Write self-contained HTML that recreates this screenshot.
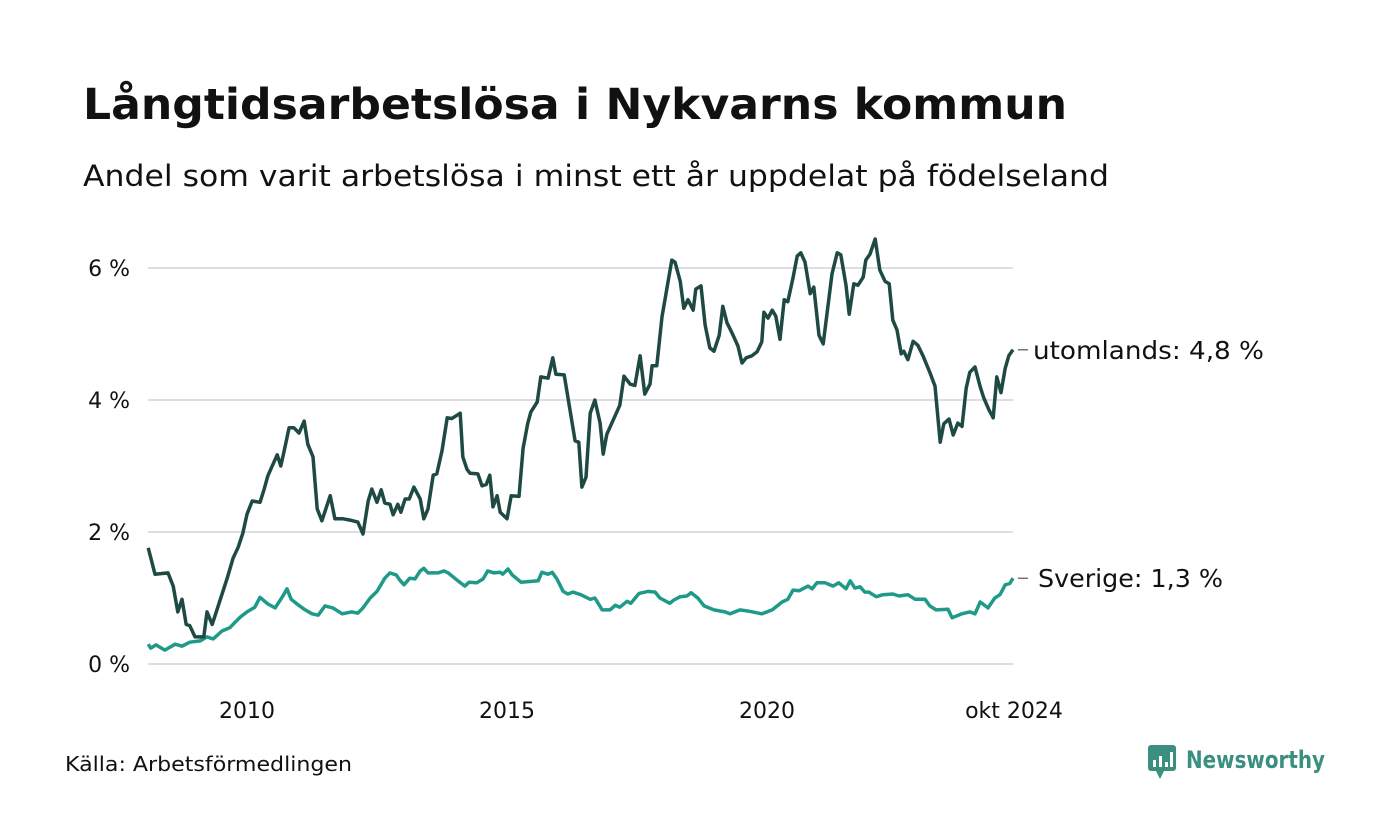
<!DOCTYPE html>
<html><head><meta charset="utf-8"><style>html,body{margin:0;padding:0;background:#fff}svg{display:block}</style></head>
<body>
<svg id="chart" width="1400" height="840" viewBox="0 0 1400 840" xmlns="http://www.w3.org/2000/svg" font-family="'DejaVu Sans', 'Liberation Sans', sans-serif">
<rect width="1400" height="840" fill="#fff"/>
<text x="83" y="119" font-size="43" font-weight="bold" fill="#111" textLength="984" lengthAdjust="spacingAndGlyphs">Långtidsarbetslösa i Nykvarns kommun</text>
<text x="83" y="186" font-size="29" fill="#111" textLength="1026" lengthAdjust="spacingAndGlyphs">Andel som varit arbetslösa i minst ett år uppdelat på födelseland</text>
<g id="grid"></g><g id="xaxis"></g><g id="series"></g>
<text x="65" y="771" font-size="20" fill="#111" textLength="287" lengthAdjust="spacingAndGlyphs">Källa: Arbetsförmedlingen</text>
<g>
<rect x="1148" y="745" width="28" height="26" rx="3" fill="#3a8f80"/>
<polygon points="1156,771 1164,771 1160,779" fill="#3a8f80"/>
<rect x="1153" y="760" width="3" height="7" fill="#fff"/><rect x="1159" y="756" width="3" height="11" fill="#fff"/><rect x="1165" y="762" width="3" height="5" fill="#fff"/><rect x="1170" y="752" width="3" height="15" fill="#fff"/>
<text x="1186" y="768" font-size="24" font-weight="bold" fill="#3a8f80" textLength="139" lengthAdjust="spacingAndGlyphs">Newsworthy</text>
</g>
</svg>
<script>
const yTicks=[0,2,4,6];
const yTickLabels=["0 %","2 %","4 %","6 %"];
const xTicks=[2010,2015,2020,2024.75];
const xTickLabels=["2010","2015","2020","okt 2024"];
const foreignDates=[2008.10,2008.23,2008.48,2008.58,2008.67,2008.75,2008.83,2008.90,2009.00,2009.17,2009.23,2009.33,2009.62,2009.73,2009.83,2009.92,2010.00,2010.10,2010.25,2010.33,2010.40,2010.58,2010.65,2010.71,2010.81,2010.90,2011.00,2011.10,2011.17,2011.27,2011.35,2011.44,2011.60,2011.69,2011.85,2011.98,2012.13,2012.23,2012.33,2012.40,2012.50,2012.58,2012.65,2012.75,2012.81,2012.90,2012.96,2013.04,2013.12,2013.21,2013.33,2013.40,2013.48,2013.58,2013.65,2013.75,2013.85,2013.94,2014.10,2014.15,2014.23,2014.29,2014.44,2014.52,2014.60,2014.67,2014.73,2014.81,2014.87,2015.00,2015.08,2015.23,2015.31,2015.40,2015.46,2015.58,2015.65,2015.79,2015.88,2015.94,2016.10,2016.31,2016.38,2016.44,2016.52,2016.60,2016.69,2016.79,2016.85,2016.92,2017.17,2017.25,2017.37,2017.46,2017.56,2017.65,2017.75,2017.79,2017.88,2017.98,2018.17,2018.23,2018.33,2018.40,2018.48,2018.58,2018.63,2018.73,2018.81,2018.90,2018.98,2019.08,2019.15,2019.23,2019.33,2019.44,2019.52,2019.60,2019.71,2019.81,2019.90,2019.94,2020.02,2020.10,2020.17,2020.25,2020.33,2020.40,2020.50,2020.58,2020.65,2020.73,2020.83,2020.90,2021.00,2021.08,2021.25,2021.35,2021.42,2021.52,2021.58,2021.67,2021.75,2021.85,2021.90,2021.98,2022.08,2022.17,2022.27,2022.35,2022.42,2022.50,2022.58,2022.63,2022.71,2022.81,2022.90,2023.00,2023.13,2023.23,2023.33,2023.40,2023.50,2023.58,2023.67,2023.75,2023.83,2023.90,2024.00,2024.10,2024.17,2024.27,2024.35,2024.42,2024.50,2024.58,2024.65,2024.73];
const foreignValues=[1.76,1.36,1.38,1.18,0.79,0.98,0.60,0.58,0.41,0.41,0.79,0.60,1.30,1.60,1.77,1.98,2.27,2.47,2.45,2.65,2.85,3.17,3.00,3.21,3.58,3.58,3.50,3.68,3.33,3.14,2.35,2.17,2.55,2.20,2.20,2.18,2.15,1.97,2.47,2.65,2.45,2.64,2.44,2.42,2.26,2.42,2.30,2.50,2.50,2.68,2.50,2.20,2.35,2.86,2.88,3.23,3.73,3.72,3.80,3.14,2.95,2.89,2.88,2.70,2.72,2.86,2.38,2.55,2.30,2.20,2.55,2.54,3.27,3.65,3.82,3.97,4.35,4.33,4.64,4.39,4.38,3.38,3.36,2.68,2.83,3.80,4.00,3.65,3.18,3.48,3.92,4.36,4.24,4.22,4.67,4.09,4.24,4.52,4.52,5.26,6.12,6.09,5.80,5.39,5.52,5.36,5.68,5.73,5.14,4.79,4.74,4.98,5.42,5.17,5.01,4.82,4.56,4.64,4.67,4.73,4.88,5.33,5.24,5.36,5.27,4.92,5.52,5.49,5.85,6.18,6.23,6.09,5.61,5.71,4.98,4.85,5.91,6.23,6.20,5.74,5.30,5.76,5.74,5.86,6.12,6.21,6.44,5.97,5.80,5.76,5.21,5.06,4.70,4.74,4.61,4.89,4.83,4.67,4.42,4.21,3.36,3.64,3.71,3.47,3.65,3.60,4.18,4.42,4.50,4.20,4.03,3.85,3.73,4.35,4.11,4.48,4.67,4.76];
const swedenDates=[2008.10,2008.15,2008.25,2008.42,2008.62,2008.75,2008.90,2009.10,2009.23,2009.35,2009.52,2009.67,2009.87,2010.02,2010.15,2010.25,2010.40,2010.54,2010.69,2010.77,2010.85,2010.96,2011.12,2011.25,2011.37,2011.50,2011.65,2011.83,2012.02,2012.13,2012.23,2012.37,2012.50,2012.65,2012.75,2012.87,2012.94,2013.02,2013.13,2013.23,2013.33,2013.40,2013.48,2013.67,2013.79,2013.87,2014.04,2014.19,2014.27,2014.42,2014.54,2014.63,2014.75,2014.87,2014.92,2015.02,2015.10,2015.27,2015.60,2015.67,2015.79,2015.87,2015.96,2016.08,2016.17,2016.27,2016.42,2016.60,2016.69,2016.83,2016.98,2017.08,2017.17,2017.31,2017.38,2017.54,2017.71,2017.85,2017.94,2018.13,2018.21,2018.33,2018.46,2018.54,2018.67,2018.79,2018.98,2019.19,2019.29,2019.48,2019.65,2019.90,2020.10,2020.29,2020.40,2020.50,2020.62,2020.79,2020.87,2020.96,2021.12,2021.27,2021.38,2021.52,2021.60,2021.69,2021.79,2021.88,2021.96,2022.10,2022.23,2022.42,2022.54,2022.71,2022.85,2023.04,2023.13,2023.25,2023.48,2023.56,2023.75,2023.90,2024.00,2024.10,2024.25,2024.38,2024.48,2024.58,2024.67,2024.73];
const swedenValues=[0.30,0.24,0.29,0.21,0.30,0.27,0.33,0.35,0.41,0.38,0.50,0.55,0.71,0.80,0.86,1.01,0.91,0.85,1.03,1.14,0.98,0.91,0.82,0.76,0.74,0.88,0.85,0.76,0.79,0.77,0.85,1.00,1.10,1.30,1.38,1.35,1.27,1.20,1.30,1.29,1.41,1.45,1.38,1.38,1.41,1.38,1.27,1.18,1.24,1.23,1.29,1.41,1.38,1.39,1.36,1.44,1.35,1.24,1.26,1.39,1.36,1.39,1.29,1.10,1.06,1.09,1.05,0.98,1.00,0.82,0.82,0.89,0.86,0.95,0.92,1.07,1.10,1.09,1.00,0.92,0.97,1.02,1.03,1.08,1.00,0.88,0.82,0.79,0.76,0.82,0.80,0.76,0.82,0.94,0.98,1.12,1.11,1.18,1.14,1.23,1.23,1.18,1.23,1.14,1.26,1.15,1.17,1.09,1.09,1.02,1.05,1.06,1.03,1.05,0.98,0.98,0.88,0.82,0.83,0.70,0.76,0.79,0.76,0.94,0.85,1.00,1.05,1.20,1.22,1.30];
const NS='http://www.w3.org/2000/svg';
const xs=d=>247+(d-2010)*52;
const ys=v=>664-v*66;
function mk(tag,attrs,parent){const e=document.createElementNS(NS,tag);for(const k in attrs)e.setAttribute(k,attrs[k]);parent.appendChild(e);return e;}
const grid=document.getElementById('grid');
yTicks.forEach((t,i)=>{
 const l=mk('line',{x1:148,x2:1013,y1:ys(t),y2:ys(t),stroke:'#dddde2','stroke-width':2},grid);
 
 
 const tx=mk('text',{x:130,y:ys(t)+8,'font-size':22,fill:'#111','text-anchor':'end'},grid);
 tx.textContent=yTickLabels[i];
 
 
});
const xa=document.getElementById('xaxis');
xTicks.forEach((t,i)=>{
 const tx=mk('text',{x:xs(t),y:718,'font-size':22,fill:'#111','text-anchor':'middle'},xa);
 tx.textContent=xTickLabels[i];
 
 
});
const sg=document.getElementById('series');
function drawSeries(dates,vals,color,name,label,lx,tl){
 const p=mk('polyline',{points:dates.map((d,i)=>xs(d).toFixed(1)+','+ys(vals[i]).toFixed(1)).join(' '),fill:'none',stroke:color,'stroke-width':3.5,'stroke-linejoin':'round'},sg);
 
 
 const ex=xs(dates[dates.length-1]),ey=ys(vals[vals.length-1]);
 const tk=mk('line',{x1:ex+5,x2:ex+15,y1:ey,y2:ey,stroke:'#333','stroke-width':1},sg);
 
 
 const t=mk('text',{x:lx,y:ey+9,'font-size':25,fill:'#111',textLength:tl,lengthAdjust:'spacingAndGlyphs'},sg);
 t.textContent=label+': '+vals[vals.length-1].toFixed(1).replace('.',',')+' %';
 
 
}
drawSeries(swedenDates,swedenValues,'#1f9a88','sverige','Sverige',1038,185);
drawSeries(foreignDates,foreignValues,'#1f4a44','utomlands','utomlands',1033,231);
</script>
</body></html>
